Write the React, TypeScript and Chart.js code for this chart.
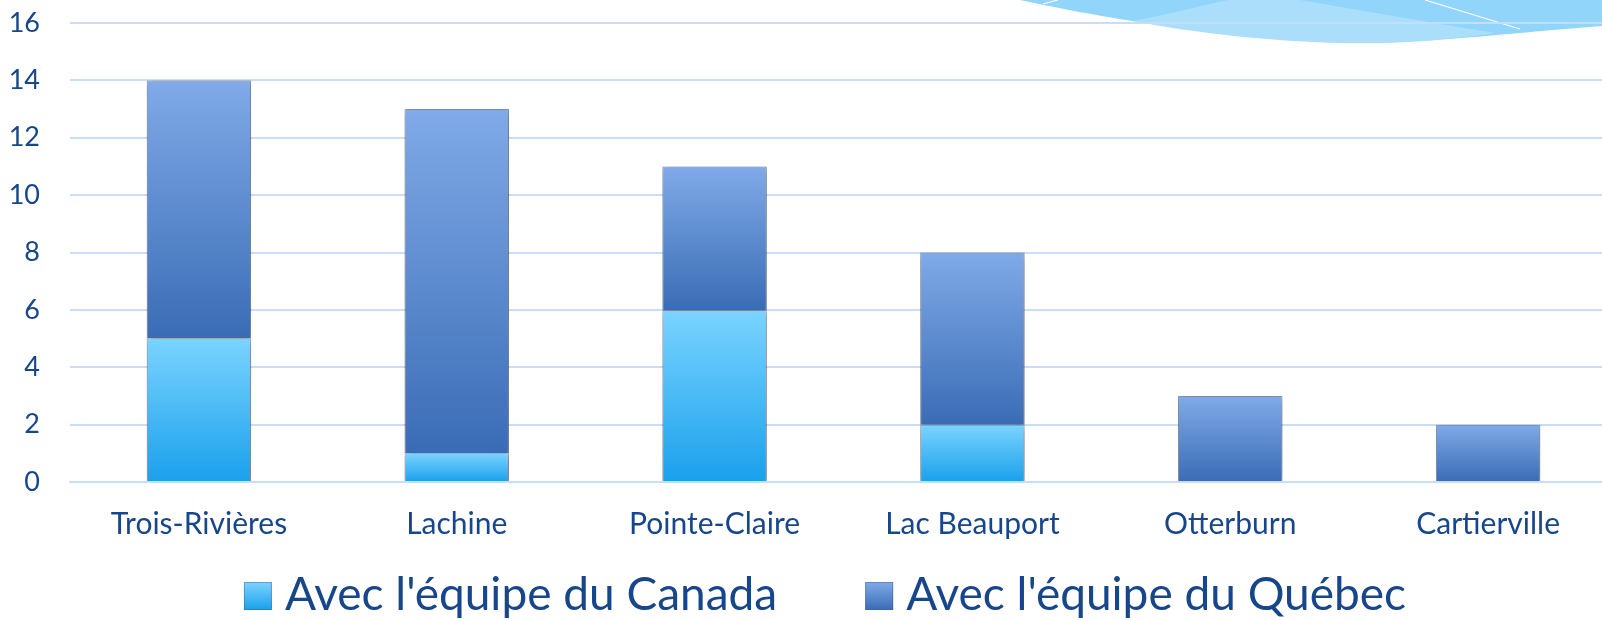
import React, { useEffect, useRef } from "react";
import { Chart, registerables } from "chart.js";

Chart.register(...registerables);

const categories = ["Trois-Rivières", "Lachine", "Pointe-Claire", "Lac Beauport", "Otterburn", "Cartierville"];
const canadaValues = [5, 1, 6, 2, 0, 0];
const quebecValues = [9, 12, 5, 6, 3, 2];
const seriesLabels = ["Avec l'équipe du Canada", "Avec l'équipe du Québec"];
const yTicks = [0, 2, 4, 6, 8, 10, 12, 14, 16];

const TEXT = "#17468A";
const GRID = "#C9DDF6";
const FONT = "Lato, 'Open Sans', sans-serif";

const canadaStops = ["#7AD4FF", "#1AA0EB"];
const quebecStops = ["#80AAE8", "#3A6CB5"];
const seriesStops = [canadaStops, quebecStops];

function segGradient(ctx: any, stops: string[], fallback: string) {
  const chart = ctx.chart;
  if (ctx.type !== "data" || !chart.chartArea || !chart.scales.y) return fallback;
  const i = ctx.dataIndex;
  const y = chart.scales.y;
  const base = ctx.datasetIndex === 0 ? 0 : canadaValues[i];
  const val = ctx.datasetIndex === 0 ? canadaValues[i] : quebecValues[i];
  const y0 = y.getPixelForValue(base + val);
  const y1 = y.getPixelForValue(base);
  if (!isFinite(y0) || !isFinite(y1) || y1 - y0 < 0.5) return fallback;
  const g = chart.ctx.createLinearGradient(0, y0, 0, y1);
  g.addColorStop(0, stops[0]);
  g.addColorStop(1, stops[1]);
  return g;
}

const swooshPlugin = {
  id: "swoosh",
  beforeDraw(chart: any) {
    const c = chart.ctx;
    c.save();
    c.beginPath();
    c.moveTo(1020, 0);
    c.bezierCurveTo(1150, 28, 1290, 44, 1370, 43);
    c.bezierCurveTo(1440, 42, 1520, 32, 1602, 26);
    c.lineTo(1602, 0);
    c.closePath();
    c.fillStyle = "#92D5FA";
    c.fill();
    c.beginPath();
    c.moveTo(1133, 21);
    c.bezierCurveTo(1170, 14, 1200, 6, 1228, 0);
    c.lineTo(1300, 0);
    c.bezierCurveTo(1370, 12, 1440, 24, 1495, 33);
    c.bezierCurveTo(1440, 41, 1400, 43, 1370, 43);
    c.bezierCurveTo(1290, 44, 1200, 34, 1133, 21);
    c.closePath();
    c.fillStyle = "#AADEFB";
    c.fill();
    c.strokeStyle = "rgba(255,255,255,0.95)";
    c.lineWidth = 1.2;
    c.beginPath();
    c.moveTo(1043, 4);
    c.lineTo(1058, 0);
    c.stroke();
    c.beginPath();
    c.moveTo(1425, 0);
    c.lineTo(1520, 29);
    c.stroke();
    c.restore();
  },
};

const shadowPlugin = {
  id: "barShadow",
  beforeDatasetsDraw(chart: any) {
    const c = chart.ctx;
    c.save();
    c.shadowColor = "rgba(0,0,0,0.42)";
    c.shadowBlur = 8;
    c.shadowOffsetX = 1;
    c.shadowOffsetY = 2;
  },
  afterDatasetsDraw(chart: any) {
    chart.ctx.restore();
  },
};

// Legend drawn below the axis labels (gradient swatches, wide item spacing)
const legendPlugin = {
  id: "gradientLegend",
  afterDraw(chart: any) {
    const c = chart.ctx;
    c.save();
    c.font = `46px ${FONT}`;
    const box = 28;
    const boxGap = 13;
    const itemGap = 88;
    const widths = seriesLabels.map((t) => c.measureText(t).width);
    const total = widths.reduce((a, w) => a + box + boxGap + w, 0) + itemGap * (seriesLabels.length - 1);
    let x = (chart.width - total) / 2 + 15;
    const baseline = chart.height - 10;
    const boxTop = baseline - box;
    seriesLabels.forEach((t, i) => {
      const g = c.createLinearGradient(0, boxTop, 0, boxTop + box);
      g.addColorStop(0, seriesStops[i][0]);
      g.addColorStop(1, seriesStops[i][1]);
      c.fillStyle = g;
      c.fillRect(x, boxTop, box, box);
      c.strokeStyle = "rgba(70,95,140,0.45)";
      c.lineWidth = 1;
      c.strokeRect(x + 0.5, boxTop + 0.5, box - 1, box - 1);
      c.fillStyle = TEXT;
      c.textBaseline = "alphabetic";
      c.textAlign = "left";
      c.fillText(t, x + box + boxGap, baseline);
      x += box + boxGap + widths[i] + itemGap;
    });
    c.restore();
  },
};

export default function App() {
  const ref = useRef<HTMLCanvasElement>(null);
  useEffect(() => {
    if (!ref.current) return;
    const chart = new Chart(ref.current, {
      type: "bar",
      data: {
        labels: categories,
        datasets: [
          {
            label: seriesLabels[0],
            data: canadaValues,
            backgroundColor: (ctx: any) => segGradient(ctx, canadaStops, "#4DB9F5"),
            borderColor: "rgba(70,95,140,0.55)",
            borderWidth: (ctx: any) => (ctx.raw === 0 ? 0 : 1),
            barPercentage: 0.405,
            categoryPercentage: 1,
          },
          {
            label: seriesLabels[1],
            data: quebecValues,
            backgroundColor: (ctx: any) => segGradient(ctx, quebecStops, "#5B8BD2"),
            borderColor: "rgba(70,90,140,0.6)",
            borderWidth: 1,
            barPercentage: 0.405,
            categoryPercentage: 1,
          },
        ],
      },
      options: {
        responsive: false,
        animation: false,
        layout: { padding: { top: 23, right: 3, left: 0, bottom: 54 } },
        scales: {
          x: {
            stacked: true,
            grid: { display: false, drawTicks: false },
            border: { display: true, color: GRID, width: 2 },
            ticks: { color: TEXT, font: { family: FONT, size: 30 }, padding: 24, maxRotation: 0 },
          },
          y: {
            stacked: true,
            min: 0,
            max: 16,
            afterFit: (s: any) => { s.width = 70; },
            afterBuildTicks: (s: any) => { s.ticks = yTicks.map((v) => ({ value: v })); },
            grid: { color: GRID, lineWidth: 2, drawTicks: true, tickLength: 30, tickColor: "rgba(0,0,0,0)" },
            border: { display: false },
            ticks: { color: TEXT, font: { family: FONT, size: 27 }, padding: 0 },
          },
        },
        plugins: {
          tooltip: { enabled: false },
          legend: { display: false },
        },
      },
      plugins: [swooshPlugin, shadowPlugin, legendPlugin],
    } as any);
    return () => chart.destroy();
  }, []);
  return (
    <div style={{ position: "absolute", left: 0, top: 0, width: 1602, height: 620, overflow: "hidden", background: "#fff" }}>
      <canvas ref={ref} width={1620} height={620} />
    </div>
  );
}
